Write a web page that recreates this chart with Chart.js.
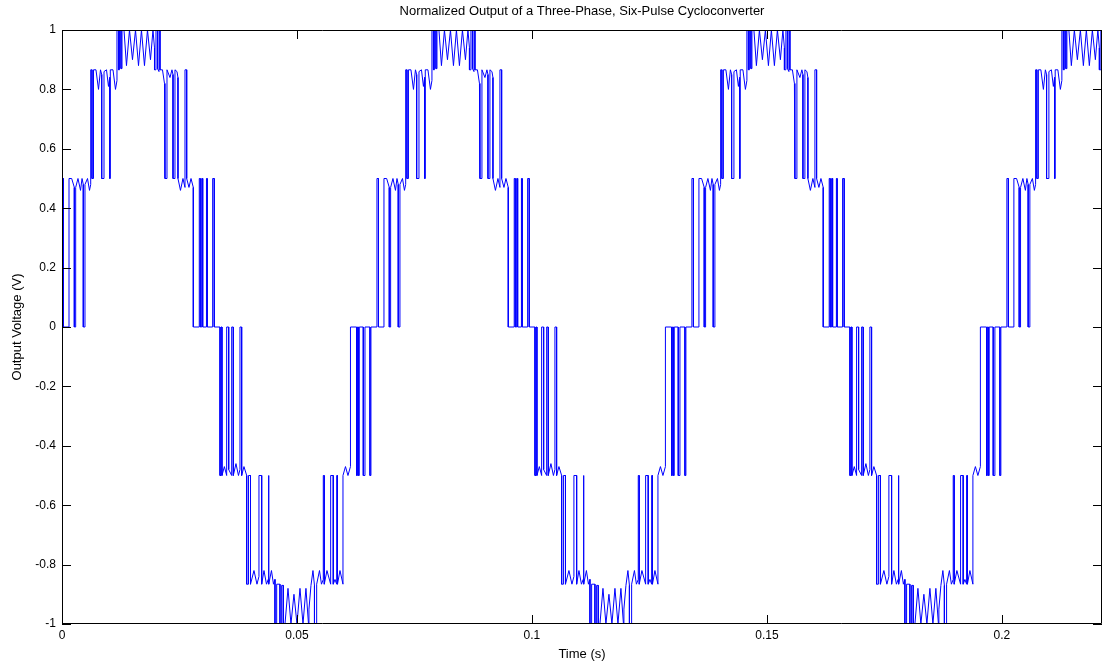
<!DOCTYPE html>
<html>
<head>
<meta charset="utf-8">
<title>Normalized Output of a Three-Phase, Six-Pulse Cycloconverter</title>
<script src="https://cdn.jsdelivr.net/npm/chart.js@4.4.0/dist/chart.umd.min.js"></script>
<style>
  html, body { margin: 0; padding: 0; background: #fff; }
  #wrap { width: 1104px; height: 662px; }
</style>
</head>
<body>
<div id="wrap"><canvas id="cyclo-chart" width="1104" height="662"></canvas></div>
<script>
// One output cycle: time offset in ms, normalized volts
var cycleTimeMs = [
    // 0 -> 0.5
    0, 0, 0.32, 0.32, 1.49, 1.49, 2.06, 2.62, 2.62, 2.91, 2.91, 3.40, 3.94, 4.26, 4.53, 4.53, 4.89, 4.89, 5.43, 5.85,
    // 0.5 -> 0.866
    6.11, 6.11, 6.38, 6.38, 6.70, 6.70, 7.23, 7.77, 8.19, 8.45, 8.45, 8.94, 8.94, 9.47, 9.89, 10.15, 10.15, 10.28, 10.28, 10.85, 11.38,
    // 0.866 -> 1 and the top
    11.70, 11.70, 12.02, 12.02, 12.23, 12.23, 12.55, 12.55, 12.77, 12.77, 13.19, 13.72, 14.36, 15.00, 15.64, 16.28, 16.91, 17.55, 18.19, 18.83, 19.36,
    // 1 -> 0.866 -> 0.5
    19.68, 19.68, 20.00, 20.00, 20.32, 20.32, 20.64, 20.64, 20.85, 20.85, 21.38, 21.81, 21.91, 21.91, 22.34, 22.34, 22.98, 23.40, 23.62, 23.62,
    24.04, 24.04, 24.47, 24.68, 24.68, 25.21, 25.74, 26.17, 26.17, 26.53, 26.53, 27.02, 27.45, 27.94,
    // 0.5 -> 0
    27.94, 29.21, 29.21, 29.43, 29.43, 29.72, 29.72, 29.94, 29.94, 30.74, 30.74, 30.91, 30.91, 32.06, 32.06, 32.40, 32.40, 33.62,
    // 0 -> -0.5
    33.62, 33.83, 33.83, 34.04, 34.04, 34.55, 35.04, 35.04, 35.47, 35.47, 36.11, 36.11, 36.45, 36.45, 37.02, 37.55, 37.87, 37.87, 38.23, 38.23, 38.72,
    // -0.5 -> -0.866
    39.30, 39.30, 39.68, 39.68, 40.11, 40.11, 40.85, 41.49, 41.91, 41.91, 42.49, 42.49, 42.98, 43.51, 43.89, 43.89, 44.04, 44.04, 44.57, 45.00,
    // -0.866 -> -1 and the bottom
    45.32, 45.32, 45.68, 45.68, 46.38, 46.38, 46.74, 46.74, 47.09, 47.09, 47.45, 48.09, 48.72, 49.36, 50.00, 50.64, 51.28, 51.91, 52.45,
    // -1 -> -0.866 -> -0.5
    52.55, 52.98, 53.40, 53.72, 53.72, 54.19, 54.19, 54.79, 55.21, 55.60, 55.60, 55.81, 55.81, 56.38, 57.17, 57.17, 57.72, 57.72, 58.09, 58.45,
    58.45, 58.62, 58.62, 59.15, 59.79, 59.79, 60.32, 60.85, 61.38,
    // -0.5 -> 0
    61.38, 62.70, 62.70, 62.87, 62.87, 63.09, 63.09, 63.26, 63.26, 64.11, 64.11, 64.47, 64.47, 65.53, 65.53, 65.74, 65.74, 67.02
];
var cycleVolts = [
    0, 0.5, 0.5, 0, 0, 0.5, 0.5, 0.47, 0, 0, 0.47, 0.5, 0.46, 0.5, 0.48, 0, 0, 0.48, 0.5, 0.46,
    0.48, 0.866, 0.866, 0.5, 0.5, 0.866, 0.866, 0.8, 0.866, 0.85, 0.5, 0.5, 0.86, 0.866, 0.81, 0.84, 0.5, 0.5, 0.866, 0.866, 0.8,
    0.83, 1, 1, 0.866, 0.866, 1, 1, 0.87, 0.87, 1, 1, 0.88, 1, 0.9, 1, 0.88, 1, 0.88, 1, 0.9, 1,
    0.94, 0.866, 0.866, 1, 1, 0.87, 0.86, 1, 1, 0.866, 0.866, 0.82, 0.82, 0.5, 0.5, 0.866, 0.84, 0.866, 0.85, 0.5,
    0.5, 0.866, 0.86, 0.84, 0.5, 0.46, 0.5, 0.47, 0.866, 0.866, 0.5, 0.47, 0.5, 0.47,
    0, 0, 0.5, 0.5, 0, 0, 0.5, 0.5, 0, 0, 0.5, 0.5, 0, 0, 0.5, 0.5, 0, 0,
    -0.5, -0.5, 0, 0, -0.5, -0.47, -0.5, 0, 0, -0.48, -0.5, 0, 0, -0.5, -0.46, -0.5, -0.48, 0, 0, -0.5, -0.47,
    -0.5, -0.866, -0.866, -0.5, -0.5, -0.866, -0.82, -0.866, -0.84, -0.5, -0.5, -0.866, -0.82, -0.866, -0.85, -0.5, -0.5, -0.866, -0.82, -0.866,
    -0.85, -1, -1, -0.866, -0.866, -1, -1, -0.87, -0.87, -1, -1, -0.88, -1, -0.9, -1, -0.88, -1, -0.88, -1,
    -0.95, -0.87, -0.82, -0.87, -1, -1, -0.866, -0.82, -0.866, -0.85, -0.5, -0.5, -0.866, -0.82, -0.866, -0.5, -0.5, -0.866, -0.85, -0.866,
    -0.5, -0.5, -0.866, -0.82, -0.866, -0.5, -0.47, -0.5, -0.47,
    0, 0, -0.5, -0.5, 0, 0, -0.5, -0.5, 0, 0, -0.5, -0.5, 0, 0, -0.5, -0.5, 0, 0
];
// start of each cycle seen on the plot (ms)
var cycleStartMs = [0, 67.02, 134.04, 201.06];

var xTicks = [0, 0.05, 0.1, 0.15, 0.2];
var yTicks = [-1, -0.8, -0.6, -0.4, -0.2, 0, 0.2, 0.4, 0.6, 0.8, 1];
var xMax = 0.2213;

var fontFamily = '"Liberation Sans", Arial, Helvetica, sans-serif';
Chart.defaults.color = '#000';
Chart.defaults.font.family = fontFamily;

var points = [];
for (var c = 0; c < cycleStartMs.length; c++) {
    for (var i = 0; i < cycleTimeMs.length; i++) {
        points.push({ x: (cycleStartMs[c] + cycleTimeMs[i]) / 1000, y: cycleVolts[i] });
    }
}

function fmtTick(v) {
    return String(Number(v.toFixed(2)));
}

// box round the plot with inward tick marks on all four sides
var matlabAxes = {
    id: 'matlabAxes',
    afterDraw: function(chart) {
        var ctx = chart.ctx;
        var a = chart.chartArea;
        var xs = chart.scales.x;
        var ys = chart.scales.y;
        var len = 9;
        ctx.save();
        ctx.strokeStyle = '#000';
        ctx.lineWidth = 1;
        ctx.beginPath();
        ctx.rect(a.left + 0.5, a.top + 0.5, a.right - a.left - 1, a.bottom - a.top - 1);
        xTicks.forEach(function(v) {
            var px = Math.round(xs.getPixelForValue(v)) + 0.5;
            ctx.moveTo(px, a.bottom);
            ctx.lineTo(px, a.bottom - len);
            ctx.moveTo(px, a.top);
            ctx.lineTo(px, a.top + len);
        });
        yTicks.forEach(function(v) {
            var py = Math.round(ys.getPixelForValue(v)) + 0.5;
            ctx.moveTo(a.left, py);
            ctx.lineTo(a.left + len, py);
            ctx.moveTo(a.right, py);
            ctx.lineTo(a.right - len, py);
        });
        ctx.stroke();
        ctx.restore();
    }
};

var ctx = document.getElementById('cyclo-chart').getContext('2d');
var cycloChart = new Chart(ctx, {
    type: 'line',
    data: {
        datasets: [{
            label: 'Output',
            data: points,
            borderColor: 'rgb(0, 0, 255)',
            borderWidth: 1,
            pointRadius: 0,
            tension: 0,
            fill: false
        }]
    },
    options: {
        responsive: false,
        animation: false,
        parsing: false,
        layout: { padding: { left: 0, right: 2, top: 0, bottom: 0 } },
        plugins: {
            legend: { display: false },
            tooltip: { enabled: false },
            title: {
                display: true,
                fullSize: false,
                text: 'Normalized Output of a Three-Phase, Six-Pulse Cycloconverter',
                color: '#000',
                font: { size: 13, weight: 'normal', family: fontFamily },
                padding: { top: 4, bottom: 10.4 }
            }
        },
        scales: {
            x: {
                type: 'linear',
                min: 0,
                max: xMax,
                grid: { display: false, drawTicks: false },
                border: { display: false },
                afterBuildTicks: function(scale) {
                    scale.ticks = xTicks.map(function(v) { return { value: v }; });
                },
                afterFit: function(scale) { scale.height = 38; },
                ticks: {
                    autoSkip: false,
                    maxRotation: 0,
                    padding: 4,
                    font: { size: 12 },
                    callback: fmtTick
                },
                title: {
                    display: true,
                    text: 'Time (s)',
                    font: { size: 13 },
                    padding: { top: 0, bottom: 0 }
                }
            },
            y: {
                min: -1,
                max: 1,
                grid: { display: false, drawTicks: false },
                border: { display: false },
                afterBuildTicks: function(scale) {
                    scale.ticks = yTicks.map(function(v) { return { value: v }; });
                },
                afterFit: function(scale) { scale.width = 62; },
                ticks: {
                    autoSkip: false,
                    padding: 6,
                    font: { size: 12 },
                    callback: fmtTick
                },
                title: {
                    display: true,
                    text: 'Output Voltage (V)',
                    font: { size: 13 },
                    padding: { top: 10, bottom: 0 }
                }
            }
        }
    },
    plugins: [matlabAxes]
});
</script>
</body>
</html>
